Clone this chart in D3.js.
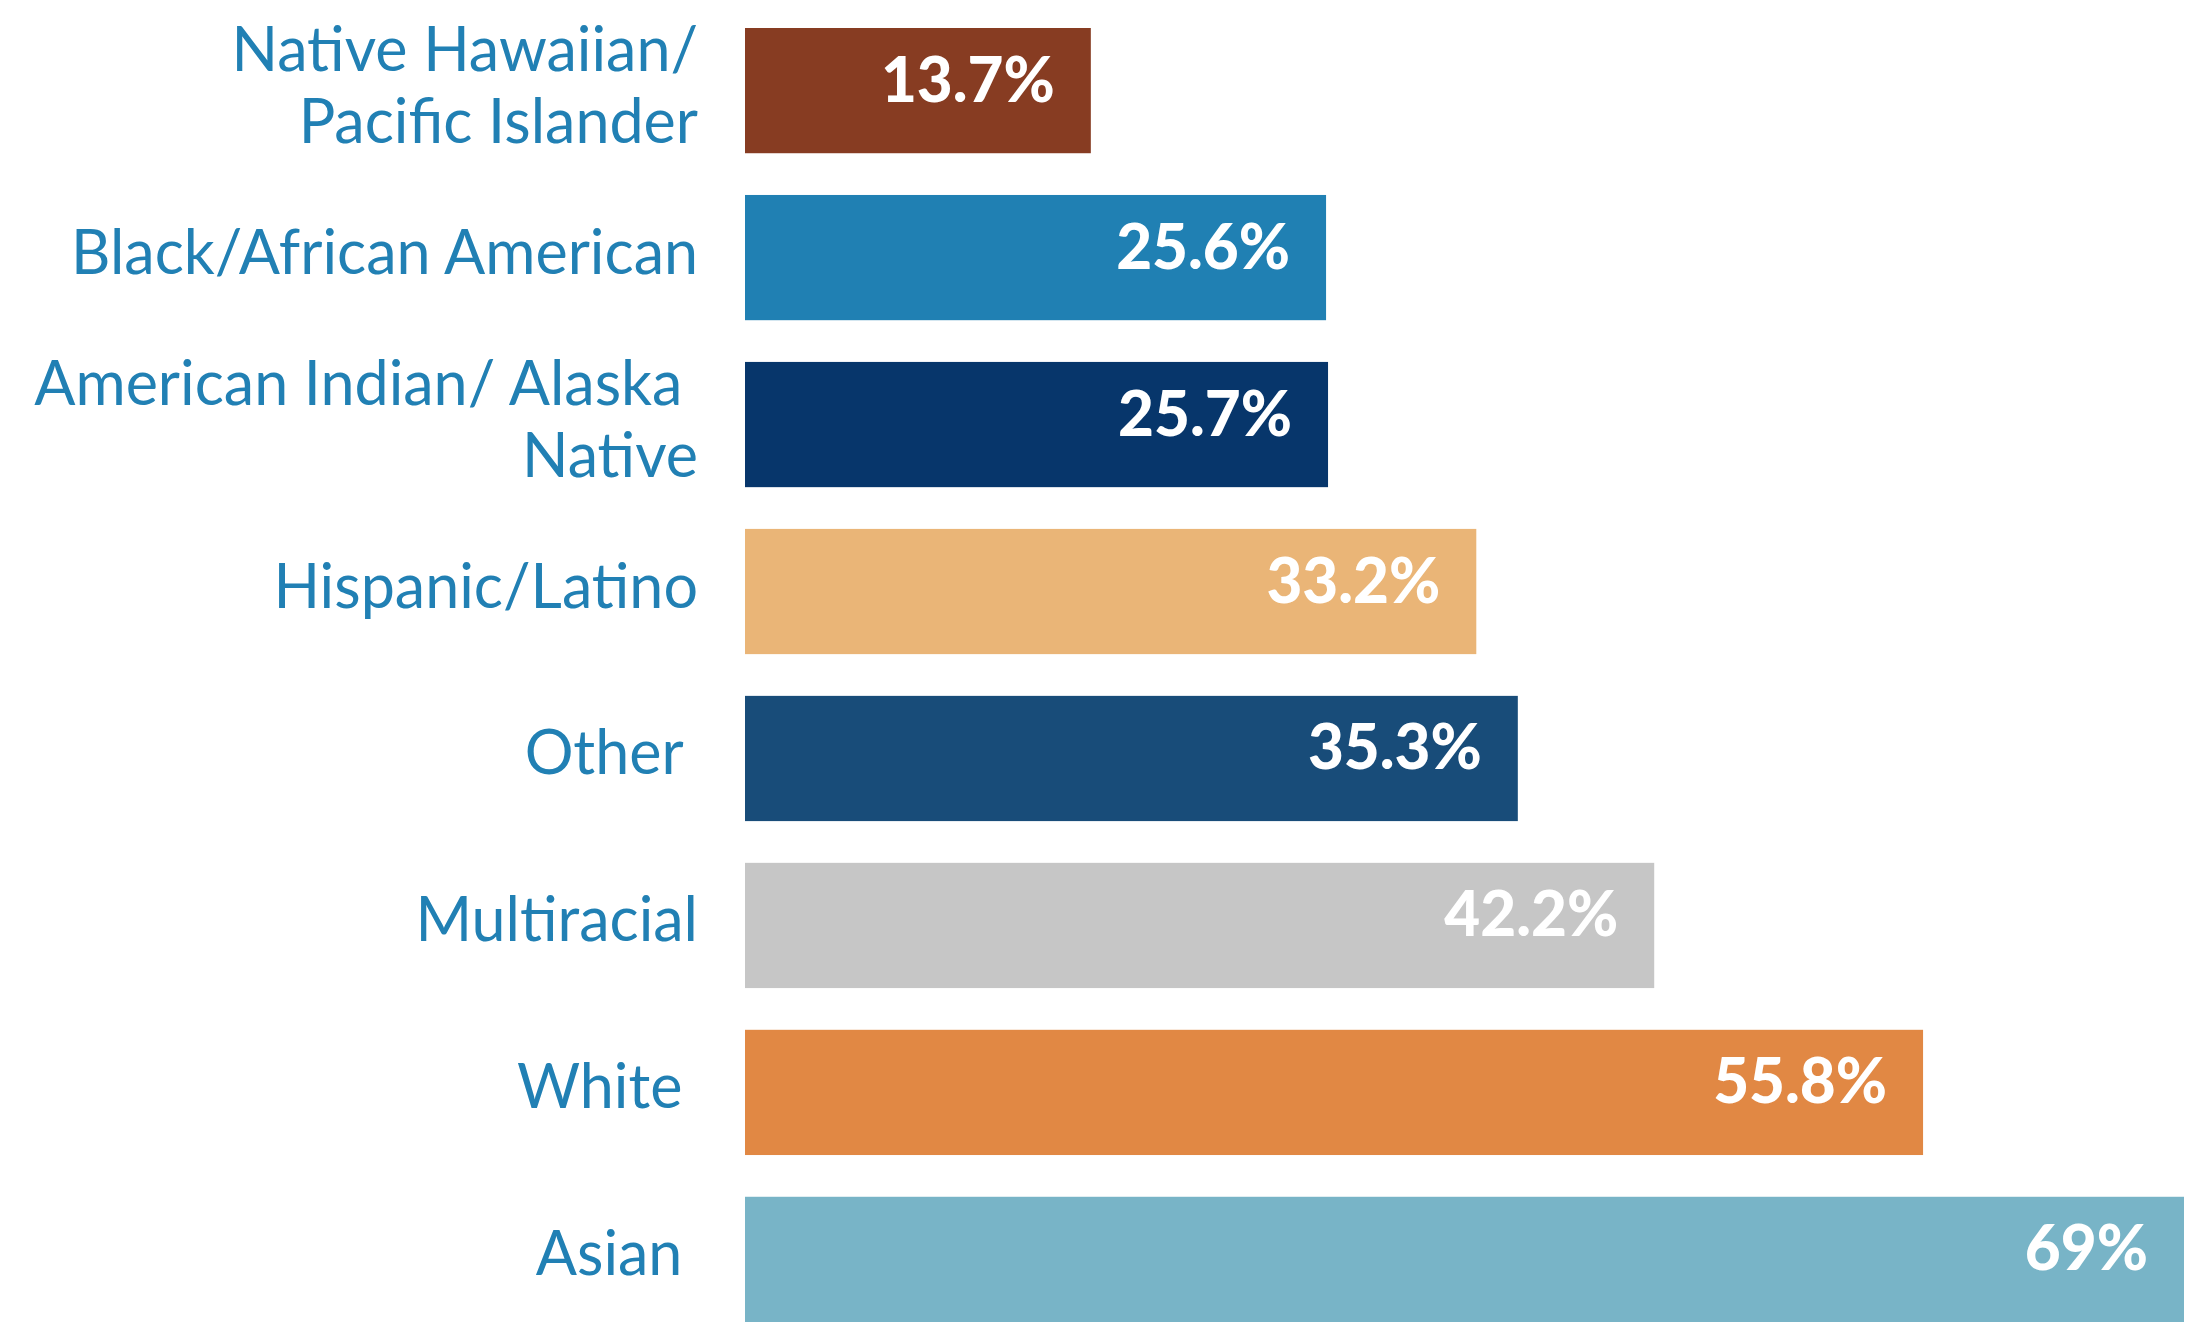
<!DOCTYPE html>
<html>
<head>
<meta charset="utf-8">
<script src="https://cdn.jsdelivr.net/npm/d3@7"></script>
<style>
  html, body { margin: 0; padding: 0; background: #fff; }
  svg { display: block; }
  .cat { font-family: Lato, "Noto Sans", sans-serif; font-weight: 400; font-size: 61px; fill: #2180b4; }
  .val { font-family: Lato, "Noto Sans", sans-serif; font-weight: 900; font-size: 62px; fill: #fff; }
</style>
</head>
<body>
<script>
const categories = [
    ["Native Hawaiian/", "Pacific Islander"],
    ["Black/African American"],
    ["American Indian/ Alaska\u00a0", "Native"],
    ["Hispanic/Latino"],
    ["Other\u00a0"],
    ["Multiracial"],
    ["White\u00a0"],
    ["Asian\u00a0"]
];
const values = [13.7, 25.6, 25.7, 33.2, 35.3, 42.2, 55.8, 69];
const valueLabels = ["13.7%", "25.6%", "25.7%", "33.2%", "35.3%", "42.2%", "55.8%", "69%"];
const colors = ["#873c22", "#2080b3", "#07366b", "#eab577", "#184c79", "#c6c6c6", "#e18844", "#78b4c7"];

const W = 2196, H = 1322;
const x0 = 745;      // bar baseline
const labelX = 698;  // right edge of category labels
const lineH = 72;

const svg = d3.select("body").append("svg")
    .attr("width", W)
    .attr("height", H);

const y = d3.scaleBand()
    .domain(d3.range(values.length))
    .range([28, 1322])
    .paddingInner(0.25)
    .paddingOuter(0);

// the source bars carry a short stub before the value scale kicks in
const x = d3.scaleLinear()
    .domain([0, d3.max(values)])
    .range([x0 + 75, 2184]);

const rows = svg.selectAll("g.row")
    .data(values)
    .join("g")
      .attr("class", "row")
      .attr("transform", (d, i) => `translate(0,${y(i)})`);

rows.append("rect")
    .attr("x", x0)
    .attr("y", 0)
    .attr("width", d => x(d) - x0)
    .attr("height", y.bandwidth())
    .attr("fill", (d, i) => colors[i]);

rows.append("text")
    .attr("class", "val")
    .attr("x", d => x(d) - 36)
    .attr("y", y.bandwidth() / 2 + 11)
    .attr("text-anchor", "end")
    .text((d, i) => valueLabels[i]);

// category labels, one or two lines
rows.each(function(d, i) {
    const lines = categories[i];
    const c = y.bandwidth() / 2;
    const first = c + 16 - (lines.length - 1) * lineH / 2;
    d3.select(this).selectAll("text.cat")
        .data(lines)
        .join("text")
          .attr("class", "cat")
          .attr("x", labelX)
          .attr("y", (t, k) => first + k * lineH)
          .attr("text-anchor", "end")
          .text(t => t);
});
</script>
</body>
</html>
